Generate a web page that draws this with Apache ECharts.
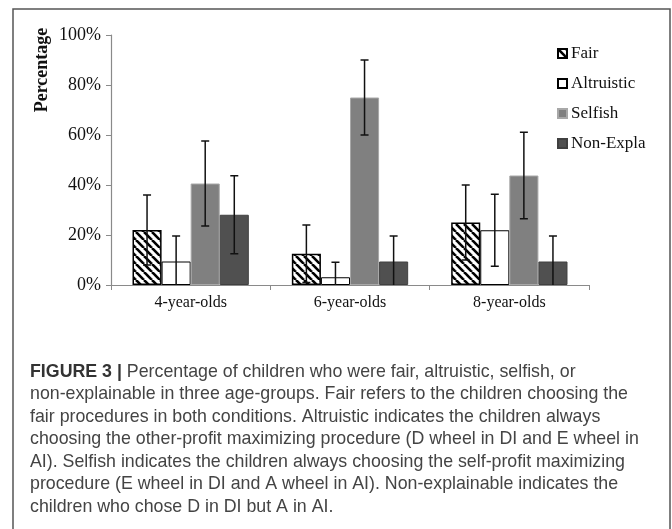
<!DOCTYPE html>
<html>
<head>
<meta charset="utf-8">
<script src="https://cdn.jsdelivr.net/npm/echarts@6/dist/echarts.min.js"></script>
<style>
html,body{margin:0;padding:0;background:#fff;}
#chart{width:672px;height:529px;}
</style>
</head>
<body>
<div id="chart"></div>
<script>
// ---- data ----
var categories = ['4-year-olds', '6-year-olds', '8-year-olds'];
var seriesNames = ['Fair', 'Altruistic', 'Selfish', 'Non-Expla'];
var fair = [22, 12.5, 25];
var fairErr = [14, 11.5, 15];
var altruistic = [9.4, 3.1, 21.9];
var altruisticErr = [10.2, 6, 14.4];
var selfish = [40.6, 75, 43.8];
var selfishErr = [17, 15, 17.3];
var nonExpla = [28.1, 9.4, 9.4];
var nonExplaErr = [15.6, 10.2, 10.2];
var yTicks = [0, 20, 40, 60, 80, 100];
var captionLines = [
  'Percentage of children who were fair, altruistic, selfish, or',
  'non-explainable in three age-groups. Fair refers to the children choosing the',
  'fair procedures in both conditions. Altruistic indicates the children always',
  'choosing the other-profit maximizing procedure (D wheel in DI and E wheel in',
  'AI). Selfish indicates the children always choosing the self-profit maximizing',
  'procedure (E wheel in DI and A wheel in AI). Non-explainable indicates the',
  'children who chose D in DI but A in AI.'
];

var values = [fair, altruistic, selfish, nonExpla];
var errs = [fairErr, altruisticErr, selfishErr, nonExplaErr];

// hatch pattern for "Fair"
var pc = document.createElement('canvas');
var S = 8;
pc.width = S; pc.height = S;
var ctx = pc.getContext('2d');
ctx.fillStyle = '#fff';
ctx.fillRect(0, 0, S, S);
ctx.strokeStyle = '#000';
ctx.lineWidth = 2.6;
[-S, 0, S].forEach(function (k) {
  ctx.beginPath();
  ctx.moveTo(k, 0);
  ctx.lineTo(k + S, S);
  ctx.stroke();
});

var GAP = 0.27;
var styles = [
  { color: { image: pc, repeat: 'repeat' }, borderColor: '#000', borderWidth: 1.5 },
  { color: '#ffffff', borderColor: '#000', borderWidth: 1 },
  { color: '#808080', borderColor: '#a8a8a8', borderWidth: 1 },
  { color: '#505050', borderColor: '#404040', borderWidth: 1 }
];

var series = [];
for (var i = 0; i < 4; i++) {
  series.push({
    name: seriesNames[i],
    type: 'bar',
    data: values[i],
    barGap: '0%',
    barCategoryGap: (GAP * 100) + '%',
    itemStyle: styles[i],
    emphasis: { disabled: true },
    z: 2
  });
}

var errData = [];
for (var s = 0; s < 4; s++) {
  for (var c = 0; c < categories.length; c++) {
    var v = values[s][c], e = errs[s][c];
    errData.push([c, Math.max(0, v - e), v + e, s]);
  }
}

series.push({
  type: 'custom',
  name: 'err',
  data: errData,
  z: 10,
  silent: true,
  encode: { x: 0, y: [1, 2] },
  renderItem: function (params, api) {
    var c = api.value(0), lo = api.value(1), hi = api.value(2), si = api.value(3);
    var band = api.size([1, 0])[0];
    var bw = band * (1 - GAP) / 4;
    var off = (si - 1.5) * bw;
    var pLo = api.coord([c, lo]);
    var pHi = api.coord([c, hi]);
    var x = pLo[0] + off;
    var cap = 4;
    var st = { stroke: '#111', lineWidth: 1.5 };
    var children = [
      { type: 'line', shape: { x1: x, y1: pLo[1], x2: x, y2: pHi[1] }, style: st },
      { type: 'line', shape: { x1: x - cap, y1: pHi[1], x2: x + cap, y2: pHi[1] }, style: st }
    ];
    if (lo > 0) {
      children.push({ type: 'line', shape: { x1: x - cap, y1: pLo[1], x2: x + cap, y2: pLo[1] }, style: st });
    }
    return { type: 'group', children: children };
  }
});

var CAP_FS = 17.8;
var captionGraphics = captionLines.map(function (t, idx) {
  return {
    type: 'text',
    left: 30,
    top: 373 + idx * 22.5 - 10,
    style: idx === 0 ? {
      text: '{b|FIGURE 3 |} ' + t,
      rich: {
        b: { fontFamily: 'Liberation Sans', fontWeight: 'bold', fontSize: CAP_FS, fill: '#333' }
      },
      fontFamily: 'Liberation Sans',
      fontSize: CAP_FS,
      fill: '#444'
    } : {
      text: t,
      fontFamily: 'Liberation Sans',
      fontSize: CAP_FS,
      fill: '#444'
    }
  };
});

var chart = echarts.init(document.getElementById('chart'));
chart.setOption({
  animation: false,
  backgroundColor: '#fff',
  grid: { left: 111, right: 83, top: 35, bottom: 244, containLabel: false },
  legend: {
    orient: 'vertical',
    left: 552,
    top: 40,
    itemWidth: 9,
    itemHeight: 9,
    itemGap: 13,
    icon: 'rect',
    data: seriesNames,
    selectedMode: false,
    textStyle: { fontFamily: 'Liberation Serif', fontSize: 17, color: '#111', padding: [0, 0, 0, -1] }
  },
  xAxis: {
    type: 'category',
    data: categories,
    axisLine: { lineStyle: { color: '#8a8a8a', width: 1.2 } },
    axisTick: { show: true, alignWithLabel: false, length: 5, lineStyle: { color: '#8a8a8a' } },
    axisLabel: { fontFamily: 'Liberation Serif', fontSize: 16, color: '#111', margin: 10 }
  },
  yAxis: {
    type: 'value',
    min: yTicks[0],
    max: yTicks[yTicks.length - 1],
    interval: yTicks[1] - yTicks[0],
    splitLine: { show: false },
    axisLine: { show: true, lineStyle: { color: '#8a8a8a', width: 1.2 } },
    axisTick: { show: true, length: 5, lineStyle: { color: '#8a8a8a' } },
    axisLabel: { fontFamily: 'Liberation Serif', fontSize: 18, color: '#111', margin: 10, formatter: '{value}%' }
  },
  graphic: [
    {
      type: 'rect',
      shape: { x: 13, y: 9, width: 657, height: 540 },
      style: { fill: 'none', stroke: '#555', lineWidth: 1.5 },
      silent: true
    },
    {
      type: 'text',
      x: 42,
      y: 70,
      rotation: Math.PI / 2,
      style: {
        text: 'Percentage',
        fontFamily: 'Liberation Serif',
        fontWeight: 'bold',
        fontSize: 18,
        fill: '#111',
        align: 'center',
        verticalAlign: 'middle'
      }
    }
  ].concat(captionGraphics),
  series: series
});
</script>
</body>
</html>
